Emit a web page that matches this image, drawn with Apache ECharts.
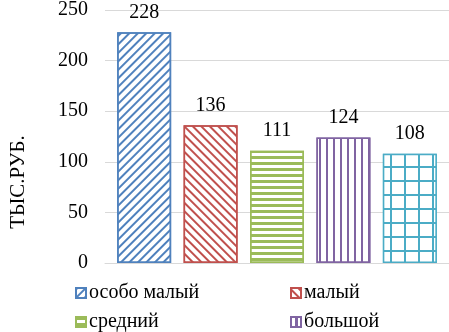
<!DOCTYPE html>
<html>
<head>
<meta charset="utf-8">
<script src="https://cdn.jsdelivr.net/npm/echarts@6/dist/echarts.min.js"></script>
<style>
  html, body { margin: 0; padding: 0; background: #fff; }
  #chart { width: 449px; height: 332px; }
</style>
</head>
<body>
<div id="chart"></div>
<script>
var seriesNames = ['особо малый', 'малый', 'средний', 'большой', 'крупный'];
var seriesValues = [228, 136, 111, 124, 108];
var colors = ['#4F81BD', '#C0504D', '#9BBB59', '#8064A2', '#4BACC6'];
var categories = [''];
var yTicks = [0, 50, 100, 150, 200, 250];

var font = 'Liberation Serif';

// hatch patterns like the excel fills
var decals = [
    { symbol: 'rect', symbolSize: 1, dashArrayX: [1, 0], dashArrayY: [2, 4], rotation: -Math.PI / 4, color: colors[0] },
    { symbol: 'rect', symbolSize: 1, dashArrayX: [1, 0], dashArrayY: [2, 4], rotation: Math.PI / 4, color: colors[1] },
    { symbol: 'rect', symbolSize: 1, dashArrayX: [1, 0], dashArrayY: [3, 2.5], rotation: 0, color: colors[2] },
    { symbol: 'rect', symbolSize: 1, dashArrayX: [1, 0], dashArrayY: [3, 4], rotation: Math.PI / 2, color: colors[3] },
    { symbol: 'rect', symbolSize: 1, dashArrayX: [12, 1.5], dashArrayY: [12, 1.5], rotation: 0, color: '#fff' }
];

var chart = echarts.init(document.getElementById('chart'), null, { renderer: 'canvas' });

var series = seriesNames.map(function (name, i) {
    return {
        name: name,
        type: 'bar',
        data: [seriesValues[i]],
        barWidth: 54,
        barGap: '23%',
        itemStyle: {
            color: i === 4 ? colors[4] : '#fff',
            borderColor: colors[i],
            borderWidth: 1.5,
            decal: decals[i]
        },
        label: {
            show: true,
            position: 'top',
            distance: 10,
            fontFamily: font,
            fontSize: 20,
            color: '#000'
        }
    };
});

var legendPos = [[75, 283], [290, 283], [75, 312], [290, 312]];
var legends = legendPos.map(function (p, i) {
    return {
        data: [{ name: seriesNames[i], icon: 'rect' }],
        left: p[0],
        top: p[1],
        padding: 0,
        itemWidth: 10,
        itemHeight: 10,
        itemGap: 3,
        selectedMode: false,
        textStyle: { fontFamily: font, fontSize: 20, color: '#000', padding: [0, 0, 0, -2] }
    };
});

var option = {
    backgroundColor: '#fff',
    animation: false,
    grid: { left: 95, width: 373, top: 8, bottom: 69 },
    legend: legends,
    xAxis: {
        type: 'category',
        data: categories,
        axisLine: { lineStyle: { color: '#d9d9d9' } },
        axisTick: { show: false },
        axisLabel: { show: false }
    },
    yAxis: {
        type: 'value',
        min: yTicks[0],
        max: yTicks[yTicks.length - 1],
        interval: 50,
        name: 'ТЫС.РУБ.',
        nameLocation: 'middle',
        nameGap: 76,
        nameRotate: 90,
        nameTextStyle: { fontFamily: font, fontSize: 21, color: '#000', padding: [0, 91, 0, 0] },
        axisLabel: { fontFamily: font, fontSize: 20, color: '#000', margin: 17 },
        splitLine: { lineStyle: { color: '#d9d9d9' } },
        axisLine: { show: false },
        axisTick: { show: false }
    },
    series: series
};

chart.setOption(option);
window.addEventListener('resize', chart.resize);
</script>
</body>
</html>
